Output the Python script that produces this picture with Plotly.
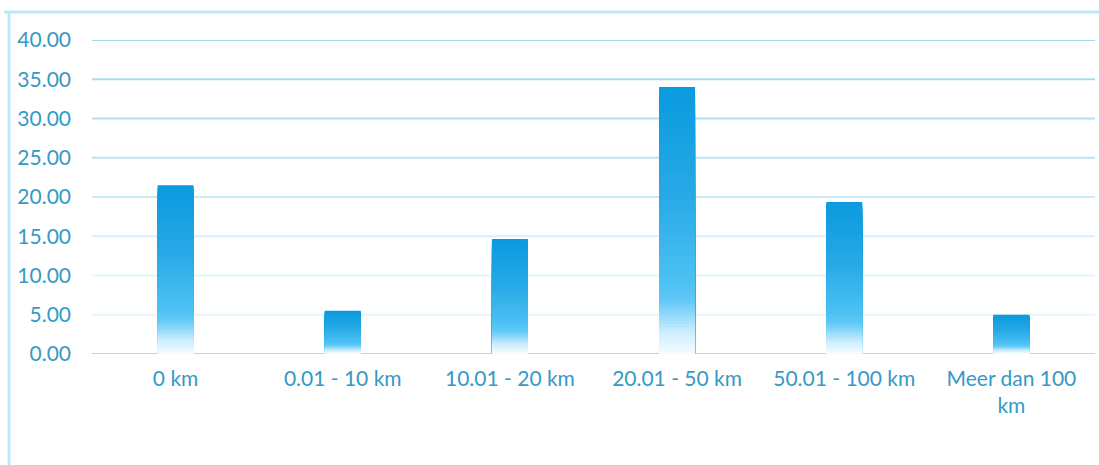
import plotly.graph_objects as go

categories = ["0 km", "0.01 - 10 km", "10.01 - 20 km", "20.01 - 50 km", "50.01 - 100 km", "Meer dan 100<br>km"]
values = [21.5, 5.5, 14.65, 34.0, 19.35, 5.0]
y_ticks = [0, 5, 10, 15, 20, 25, 30, 35, 40]
grid_colors = ["#a9dcf0", "#e6f6fc", "#e3f5fc", "#d9f1fa", "#cdebf7", "#b9e3f4", "#b0e0f2", "#a8dcf0", "#a4daef"]

W, H = 1099, 465
L, R, T, B = 92, 4, 40, 111

def lerp(c1, c2, t):
    a = [int(c1[i:i+2], 16) for i in (1, 3, 5)]
    b = [int(c2[i:i+2], 16) for i in (1, 3, 5)]
    return "rgb(%d,%d,%d)" % tuple(round(a[k] + (b[k] - a[k]) * t) for k in range(3))

stops = [(0.0, "#f6fcff"), (0.08, "#cdeefd"), (0.2, "#62c9f7"), (0.27, "#4cc1f3"), (0.6, "#27a9e6"), (1.0, "#0a9ade")]

def grad(f):
    for i in range(len(stops) - 1):
        f0, c0 = stops[i]
        f1, c1 = stops[i + 1]
        if f <= f1:
            return lerp(c0, c1, (f - f0) / (f1 - f0) if f1 > f0 else 0)
    return stops[-1][1]

N = 80
fig = go.Figure()
for k in range(N):
    frac = (N - k) / N
    fig.add_trace(go.Bar(
        x=categories, y=[v * frac for v in values],
        marker=dict(color=grad(frac - 0.5 / N), line=dict(width=0)),
        hoverinfo="skip", showlegend=False, width=0.215,
    ))

shapes = []
for t, c in zip(y_ticks, grid_colors):
    shapes.append(dict(type="line", xref="paper", yref="y", x0=0, x1=1, y0=t, y1=t,
                       line=dict(color=c, width=2), layer="below"))

pw = W - L - R
ph = H - T - B
def px_x(p):
    return (p - L) / pw
def px_y(p):
    return (H - B - p) / ph

border = "#bde7f8"
shapes.append(dict(type="line", xref="paper", yref="paper", x0=px_x(4), x1=px_x(1110),
                   y0=px_y(12), y1=px_y(12), line=dict(color=border, width=3)))
shapes.append(dict(type="line", xref="paper", yref="paper", x0=px_x(9), x1=px_x(9),
                   y0=px_y(11), y1=px_y(470), line=dict(color=border, width=3)))

font_color = "#3599c6"
fig.update_layout(
    width=W, height=H,
    margin=dict(l=L, r=R, t=T, b=B),
    paper_bgcolor="white", plot_bgcolor="white",
    barmode="overlay",
    shapes=shapes,
    font=dict(family="Lato", size=21, color=font_color),
    xaxis=dict(showgrid=False, showline=False, zeroline=False, ticks="",
               tickfont=dict(size=21, color=font_color), ticklabelstandoff=10),
    yaxis=dict(range=[0, 40], tickvals=y_ticks, tickformat=".2f", showgrid=False,
               zeroline=False, showline=False, ticks="", ticklabelstandoff=20,
               tickfont=dict(size=21, color=font_color)),
)

fig.write_html("out.html", config={"displayModeBar": False},
               post_script="document.body.style.margin='0px';document.body.style.overflow='hidden';")
